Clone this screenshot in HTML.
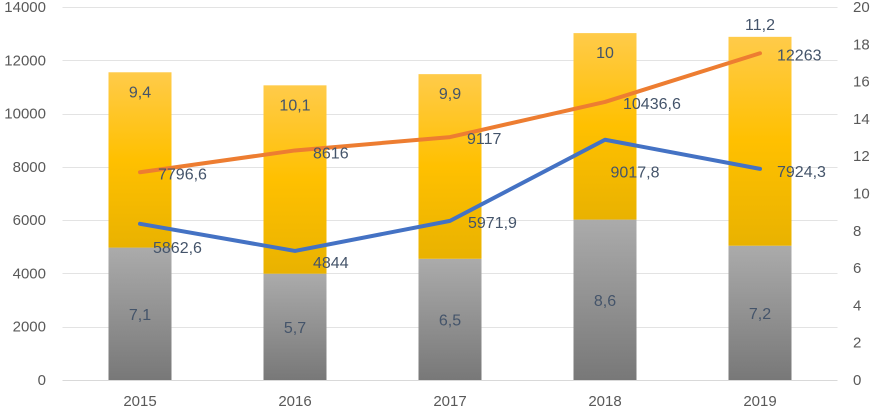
<!DOCTYPE html>
<html><head><meta charset="utf-8"><style>
body{margin:0;background:#fff;}
svg{display:block;font-family:"Liberation Sans",sans-serif;}
</style></head><body>
<svg id="chart" width="872" height="411">
<defs>
<linearGradient id="gGray" x1="0" y1="0" x2="0" y2="1"><stop offset="0" stop-color="#ababab"/><stop offset="1" stop-color="#787878"/></linearGradient>
<linearGradient id="gGold" x1="0" y1="0" x2="0" y2="1"><stop offset="0" stop-color="#ffcb4a"/><stop offset="0.5" stop-color="#ffc000"/><stop offset="1" stop-color="#e9b200"/></linearGradient>
</defs>
<g id="layer"></g>
</svg>
<script>
const years=["2015","2016","2017","2018","2019"];
const grayVals=[7.1,5.7,6.5,8.6,7.2];
const goldVals=[9.4,10.1,9.9,10,11.2];
const orangeVals=[7796.6,8616,9117,10436.6,12263];
const blueVals=[5862.6,4844,5971.9,9017.8,7924.3];
const leftTicks=[0,2000,4000,6000,8000,10000,12000,14000];
const rightTicks=[0,2,4,6,8,10,12,14,16,18,20];
const fmt=v=>String(v).replace('.',',');
const NS="http://www.w3.org/2000/svg";
const g=document.getElementById('layer');
const x0=62.5,step=155,yB=380,yT=7;
const xC=i=>x0+step*(i+0.5);
const yL=v=>yB-(v/14000)*(yB-yT);
const yR=v=>yB-(v/20)*(yB-yT);
function mk(t,a,txt){const e=document.createElementNS(NS,t);for(const k in a)e.setAttribute(k,a[k]);if(txt!==undefined)e.textContent=txt;g.appendChild(e);return e;}
leftTicks.forEach(v=>{
 if(v>0){const gl=mk('line',{x1:x0,x2:837.5,y1:Math.round(yL(v))+0.5,y2:Math.round(yL(v))+0.5,stroke:'#e3e3e3','stroke-width':1});
 
 }
 const e=mk('text',{x:46,y:yL(v)+5,'text-anchor':'end','font-size':15,fill:'#595959'},v);
 
 });
rightTicks.forEach(v=>{const e=mk('text',{x:853,y:yR(v)+5,'text-anchor':'start','font-size':15,fill:'#595959'},v);

});
const ax=mk('line',{x1:x0,x2:837.5,y1:yB+0.5,y2:yB+0.5,stroke:'#d9d9d9','stroke-width':1});


years.forEach((y,i)=>{const e=mk('text',{x:xC(i),y:406,'text-anchor':'middle','font-size':15,fill:'#595959'},y);

});
const bw=63;
years.forEach((y,i)=>{
 const gt=yR(grayVals[i]),tt=yR(grayVals[i]+goldVals[i]);
 const b1=mk('rect',{x:xC(i)-bw/2,y:gt,width:bw,height:yB-gt,fill:'url(#gGray)'});
 
 
 const b2=mk('rect',{x:xC(i)-bw/2,y:tt,width:bw,height:gt-tt,fill:'url(#gGold)'});
 
 
 const l1=mk('text',{x:xC(i),y:(gt+yB)/2+6,'text-anchor':'middle','font-size':16,fill:'#44546a'},fmt(grayVals[i]));
 
 
 const l2=mk('text',{x:xC(i),y:i===4?tt-7:tt+25,'text-anchor':'middle','font-size':16,fill:'#44546a'},fmt(goldVals[i]));
 
 
});
function line(vals,color,name,place){
 const p=mk('polyline',{points:vals.map((v,i)=>xC(i)+','+yL(v)).join(' '),fill:'none',stroke:color,'stroke-width':4,'stroke-linejoin':'round','stroke-linecap':'round'});
 
 
 vals.forEach((v,i)=>{const o=place[i];
 const t=mk('text',{x:xC(i)+o[0],y:yL(v)+o[1]+6,'text-anchor':o[2],'font-size':16,fill:'#44546a'},fmt(v));
 
 });
}
line(orangeVals,'#ed7d31','orange-line',[[18,1,'start'],[18,2,'start'],[17,1,'start'],[18,1,'start'],[17,1,'start']]);
line(blueVals,'#4472c4','blue-line',[[13,23,'start'],[18,11,'start'],[18,1,'start'],[30,32,'middle'],[17,2,'start']]);
</script>
</body></html>
